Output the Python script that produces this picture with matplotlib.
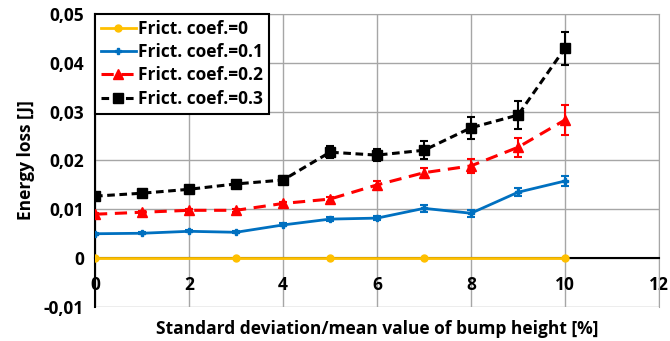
import matplotlib.pyplot as plt
from matplotlib.lines import Line2D
from matplotlib.ticker import FuncFormatter

plt.rcParams['font.family'] = ['Open Sans', 'DejaVu Sans']
plt.rcParams['font.weight'] = 'bold'

x_all = [0, 1, 2, 3, 4, 5, 6, 7, 8, 9, 10]
x_zero = [0, 3, 5, 7, 10]
e_00 = [0, 0, 0, 0, 0]
e_01 = [0.0050, 0.0051, 0.0055, 0.0053, 0.0068, 0.0080, 0.0082, 0.0102, 0.0092, 0.0135, 0.0158]
err_01 = [0.0002, 0.0002, 0.0002, 0.0002, 0.0003, 0.0004, 0.0004, 0.0007, 0.0007, 0.0008, 0.0010]
e_02 = [0.0090, 0.0094, 0.0098, 0.0098, 0.0112, 0.0121, 0.0150, 0.0175, 0.0189, 0.0227, 0.0283]
err_02 = [0.0003, 0.0003, 0.0003, 0.0003, 0.0004, 0.0005, 0.0007, 0.0010, 0.0015, 0.0020, 0.0030]
e_03 = [0.0127, 0.0133, 0.0141, 0.0152, 0.0160, 0.0217, 0.0211, 0.0221, 0.0267, 0.0293, 0.0430]
err_03 = [0.0004, 0.0004, 0.0005, 0.0006, 0.0008, 0.0012, 0.0013, 0.0018, 0.0022, 0.0029, 0.0034]
labels = ['Frict. coef.=0', 'Frict. coef.=0.1', 'Frict. coef.=0.2', 'Frict. coef.=0.3']

styles = [
    dict(color='#FFC000', lw=2, ls='-', marker='o', ms=5),
    dict(color='#0070C0', lw=2, ls='-', marker='P', ms=5),
    dict(color='#FF0000', lw=2.2, ls=(0, (4, 2.5)), marker='^', ms=7),
    dict(color='black', lw=2.2, ls=(0, (2.5, 1.5)), marker='s', ms=7),
]

fig = plt.figure(figsize=(6.7, 3.41), dpi=100)
ax = fig.add_axes([0.1418, 0.0997, 0.8418, 0.8593])

ax.plot(x_zero, e_00, zorder=3, **styles[0])
for i, (y, e) in enumerate([(e_01, err_01), (e_02, err_02), (e_03, err_03)]):
    ax.errorbar(x_all, y, yerr=e, capsize=3, elinewidth=1.5, capthick=1.5,
                zorder=4 + i, **styles[i + 1])

ax.set_xlim(0, 12)
ax.set_ylim(-0.01, 0.05)
ax.set_xticks(range(0, 13, 2))
ax.set_yticks([-0.01, 0, 0.01, 0.02, 0.03, 0.04, 0.05])
ax.yaxis.set_major_formatter(FuncFormatter(lambda v, p: '0' if abs(v) < 1e-9 else f'{v:.2f}'.replace('.', ',')))
ax.grid(True, color='#A6A6A6', lw=1)
ax.set_axisbelow(True)

ax.spines['bottom'].set_position(('data', 0))
ax.spines['bottom'].set_color('black')
ax.spines['bottom'].set_linewidth(1.5)
ax.spines['left'].set_color('black')
ax.spines['left'].set_linewidth(1.5)
ax.spines['top'].set_color('#A6A6A6')
ax.spines['right'].set_color('#A6A6A6')
ax.tick_params(axis='x', length=0, pad=13, labelsize=12.5)
ax.tick_params(axis='y', length=0, pad=8, labelsize=12.5)

ax.set_xlabel('Standard deviation/mean value of bump height [%]', fontsize=12.5, fontweight='bold')
ax.xaxis.set_label_coords(0.5, -0.045)
ax.set_ylabel('Energy loss [J]', fontsize=12.5, fontweight='bold', labelpad=6)

handles = [Line2D([], [], **s) for s in styles]
leg = ax.legend(handles, labels, loc='upper left', bbox_to_anchor=(0, 1), borderaxespad=0, fontsize=12.5,
                fancybox=False, framealpha=1, edgecolor='black', handlelength=2.0,
                handletextpad=0.1, labelspacing=0.3, borderpad=0.35)
leg.get_frame().set_linewidth(1.5)

fig.savefig('out.png', dpi=100)
